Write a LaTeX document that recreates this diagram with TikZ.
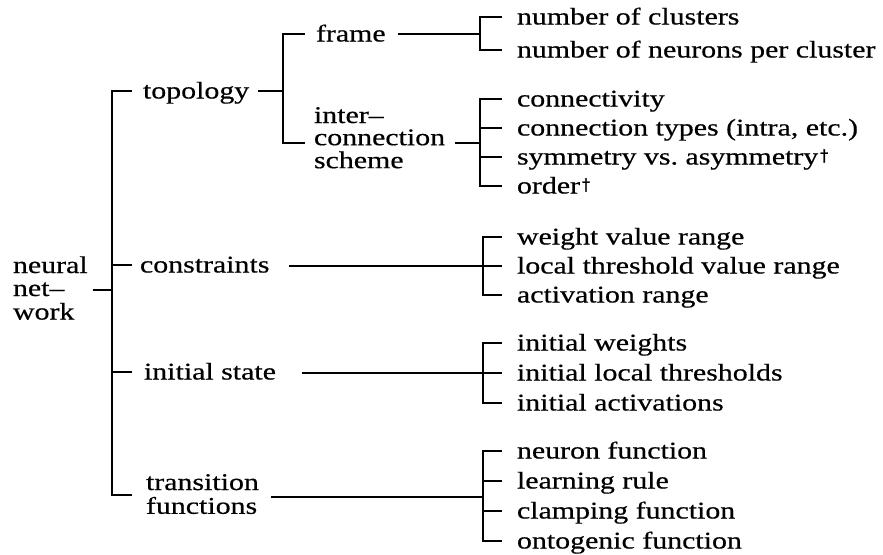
\documentclass[tikz,border=0pt]{standalone}
\usepackage{fontspec}
\setmainfont{Liberation Serif}[FakeStretch=1.245,FakeBold=0.5]
\newfontfamily\dagfont{DejaVu Sans}[FakeBold=1.5]
\usetikzlibrary{calc}
\newcommand\fs{\fontsize{24}{23}\selectfont}
\newcommand\stackA[1]{\begin{tabular}[t]{@{}l@{}}#1\end{tabular}}
\newcommand\dg{\kern2pt\raisebox{3.5pt}{\dagfont\fontsize{16}{16}\selectfont †}}
\begin{document}
\begin{tikzpicture}[x=1pt,y=-1pt,
  every node/.style={inner sep=0pt,outer sep=0pt,font=\fs},
  lbl/.style={anchor=west,text height=15pt,text depth=0pt},
  stk/.style={anchor=base west},
  ln/.style={line width=1.6pt}]
\useasboundingbox (0,0) rectangle (883,554);

% left / middle labels
\node[stk] (nn) at (13,273) {\stackA{neural\\net–\\work}};
\node[lbl] (topo) at (143,91) {topology};
\node[lbl] (frame) at (316,34) {frame};
\node[stk,font=\fontsize{24}{21}\selectfont] (ics) at (314,123) {\stackA{inter–\\connection\\scheme}};
\node[lbl] (cons) at (140,265) {constraints};
\node[lbl] (init) at (144,372) {initial state};
\node[stk] (trans) at (146,490) {\stackA{transition\\functions}};

% leaves
\node[lbl] (f1) at (517,17) {number of clusters};
\node[lbl] (f2) at (517,50) {number of neurons per cluster};
\node[lbl] (i1) at (517,99) {connectivity};
\node[lbl] (i2) at (517,128) {connection types (intra, etc.)};
\node[lbl] (i3) at (517,157) {symmetry vs.\ asymmetry\dg};
\node[lbl] (i4) at (517,186) {order\dg};
\node[lbl] (c1) at (517,237) {weight value range};
\node[lbl] (c2) at (517,266) {local threshold value range};
\node[lbl] (c3) at (517,295) {activation range};
\node[lbl] (n1) at (517,343) {initial weights};
\node[lbl] (n2) at (517,373) {initial local thresholds};
\node[lbl] (n3) at (517,403) {initial activations};
\node[lbl] (t1) at (517,451) {neuron function};
\node[lbl] (t2) at (517,481) {learning rule};
\node[lbl] (t3) at (517,511) {clamping function};
\node[lbl] (t4) at (517,541) {ontogenic function};

% root bracket
\coordinate (r0) at (112,290);
\draw[ln] ($(nn.east |- r0)+(5,0)$) -- (r0);
\draw[ln] ($(topo.west)+(-11,0)$) -| ($(trans.base west)+(-34,5)$) -- ($(trans.base west)+(-14,5)$);
\draw[ln] ($(cons.west)+(-28,0)$) -- ($(cons.west)+(-8,0)$);
\draw[ln] ($(init.west)+(-32,0)$) -- ($(init.west)+(-12,0)$);

% topology bracket
\coordinate (j1) at (283,91);
\draw[ln] ($(topo.east)+(9,0)$) -- (j1);
\draw[ln] ($(frame.west)+(-11,0)$) -| ($(ics.base west)+(-31,20)$) -- ($(ics.base west)+(-9,20)$);

% frame bracket
\coordinate (j2) at (480,34);
\draw[ln] ($(frame.east)+(12,0)$) -- (j2);
\draw[ln] ($(f1.west)+(-15,0)$) -| ($(f2.west)+(-37,0)$) -- ($(f2.west)+(-15,0)$);

% interconnection bracket
\coordinate (j3) at (480,143);
\draw[ln] ($(ics.base east)+(10,20)$) -- (j3);
\draw[ln] ($(i1.west)+(-15,0)$) -| ($(i4.west)+(-37,0)$) -- ($(i4.west)+(-15,0)$);
\draw[ln] ($(i2.west)+(-37,0)$) -- ($(i2.west)+(-15,0)$);
\draw[ln] ($(i3.west)+(-37,0)$) -- ($(i3.west)+(-15,0)$);

% constraints bracket
\draw[ln] ($(cons.east)+(20,1)$) -- ($(c2.west)+(-15,0)$);
\draw[ln] ($(c1.west)+(-15,0)$) -| ($(c3.west)+(-34,0)$) -- ($(c3.west)+(-15,0)$);

% initial state bracket
\draw[ln] ($(init.east)+(26,1)$) -- ($(n2.west)+(-15,0)$);
\draw[ln] ($(n1.west)+(-15,0)$) -| ($(n3.west)+(-34,0)$) -- ($(n3.west)+(-15,0)$);

% transition functions bracket
\coordinate (j7) at (483,497);
\draw[ln] ($(trans.base east)+(12,7)$) -- (j7);
\draw[ln] ($(t1.west)+(-15,0)$) -| ($(t4.west)+(-34,0)$) -- ($(t4.west)+(-15,0)$);
\draw[ln] ($(t2.west)+(-34,0)$) -- ($(t2.west)+(-15,0)$);
\draw[ln] ($(t3.west)+(-34,0)$) -- ($(t3.west)+(-15,0)$);
\end{tikzpicture}
\end{document}
